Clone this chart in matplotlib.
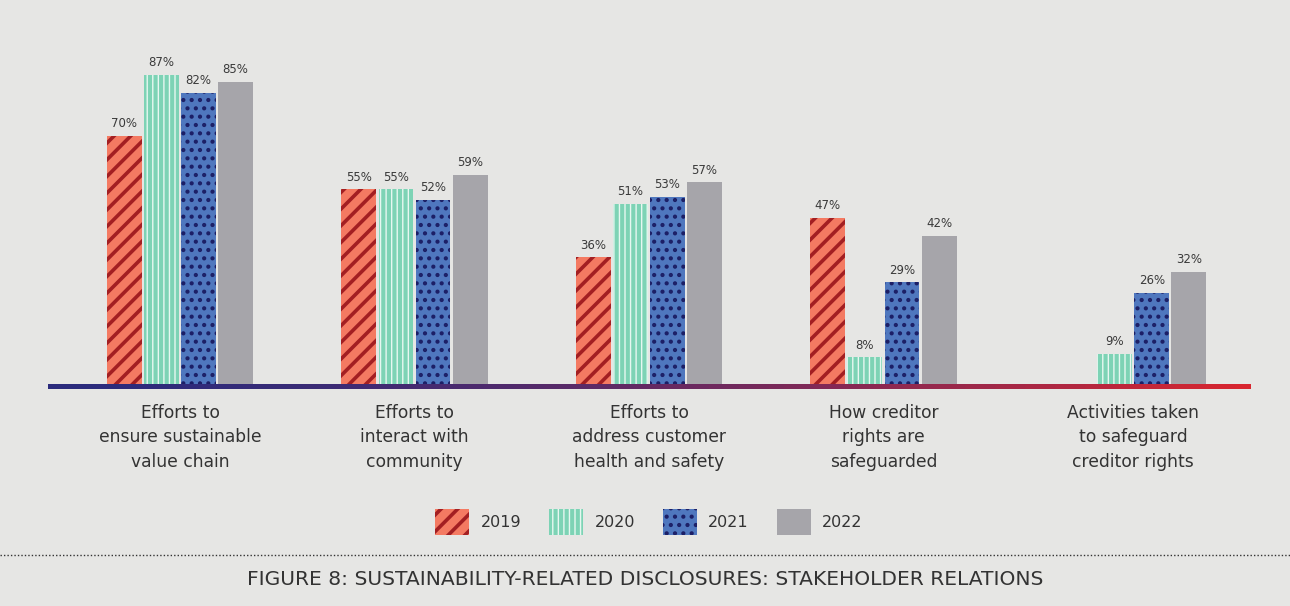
import numpy as np
import matplotlib
matplotlib.use('Agg')
import matplotlib.pyplot as plt
from matplotlib.collections import LineCollection
from matplotlib.lines import Line2D
from matplotlib.colors import to_rgb

plt.rcParams['font.family'] = ['DejaVu Sans']

categories = ['Efforts to\nensure sustainable\nvalue chain',
              'Efforts to\ninteract with\ncommunity',
              'Efforts to\naddress customer\nhealth and safety',
              'How creditor\nrights are\nsafeguarded',
              'Activities taken\nto safeguard\ncreditor rights']
years = ['2019', '2020', '2021', '2022']
v2019 = [70, 55, 36, 47, 0]
v2020 = [87, 55, 51, 8, 9]
v2021 = [82, 52, 53, 29, 26]
v2022 = [85, 59, 57, 42, 32]
title = 'FIGURE 8: SUSTAINABILITY-RELATED DISCLOSURES: STAKEHOLDER RELATIONS'

bg = '#e6e6e4'
fills = ['#f47a62', '#7dd3b5', '#4f77be', '#a6a5aa']
hatch_cols = ['#a31f22', '#e6f7f0', '#1c1f66', '#a6a5aa']
hatches = ['//', '|||', '..', None]
hatch_lw = [2.6, 1.0, 1.8, 1.0]

group_x = np.array([0, 1, 2, 3, 4.065])
bar_w = 0.149
step = 0.158

fig = plt.figure(figsize=(12.9, 6.06), dpi=100)
fig.patch.set_facecolor(bg)
ax = fig.add_axes([0.0372, 0.363, 0.9318, 0.590])
ax.set_facecolor(bg)

series = [v2019, v2020, v2021, v2022]
handles = []
for i, vals in enumerate(series):
    xs = group_x + (i - 1.5) * step
    with plt.rc_context({'hatch.linewidth': hatch_lw[i], 'hatch.color': hatch_cols[i]}):
        bars = ax.bar(xs, vals, width=bar_w, color=fills[i], edgecolor=hatch_cols[i],
                      linewidth=0, hatch=hatches[i], label=years[i])
    for p in bars:
        if hasattr(p, 'set_hatch_linewidth'):
            p.set_hatch_linewidth(hatch_lw[i])
    handles.append(bars)
    for x, v in zip(xs, vals):
        if v > 0:
            ax.text(x, v + 1.6, f'{v}%', ha='center', va='bottom', fontsize=8.5, color='#3a3a3a')

# gradient baseline, navy -> red
xl = (-0.563, 4.563)
ax.set_xlim(*xl)
ax.set_ylim(0, 100)
n = 80
xx = np.linspace(xl[0], xl[1], n + 1)
segs = [[(xx[k], 0), (xx[k + 1], 0)] for k in range(n)]
c0 = np.array(to_rgb('#2b2b7c'))
c1 = np.array(to_rgb('#d8262f'))
t = np.linspace(0, 1, n) ** 1.6
cols = [tuple(c0 * (1 - s) + c1 * s) for s in t]
lc = LineCollection(segs, colors=cols, linewidths=2.4, zorder=3, clip_on=False,
                    capstyle='butt', antialiaseds=False)
ax.add_collection(lc)

for s in ax.spines.values():
    s.set_visible(False)
ax.set_yticks([])
ax.set_xticks(group_x)
ax.set_xticklabels(categories, fontsize=12.3, color='#333333', linespacing=1.45)
ax.tick_params(axis='x', length=0, pad=13)

leg = fig.legend(handles=handles, labels=years, loc='center', bbox_to_anchor=(0.503, 0.139),
                 ncol=4, frameon=False, fontsize=11.5, handlelength=2.13, handleheight=2.13,
                 handletextpad=0.7, columnspacing=1.75)
for txt in leg.get_texts():
    txt.set_color('#333333')
for k, p in enumerate(leg.get_patches()):
    if hasattr(p, 'set_hatch_linewidth'):
        p.set_hatch_linewidth(hatch_lw[k])

fig.add_artist(Line2D([0.0, 1.0], [0.084, 0.084], transform=fig.transFigure,
                      color='#333333', linestyle=(0, (1, 1.5)), linewidth=1.0))
fig.text(0.5, 0.043, title, ha='center', va='center', fontsize=14.6, color='#333333')

fig.savefig('out.png', dpi=100, facecolor=bg)
